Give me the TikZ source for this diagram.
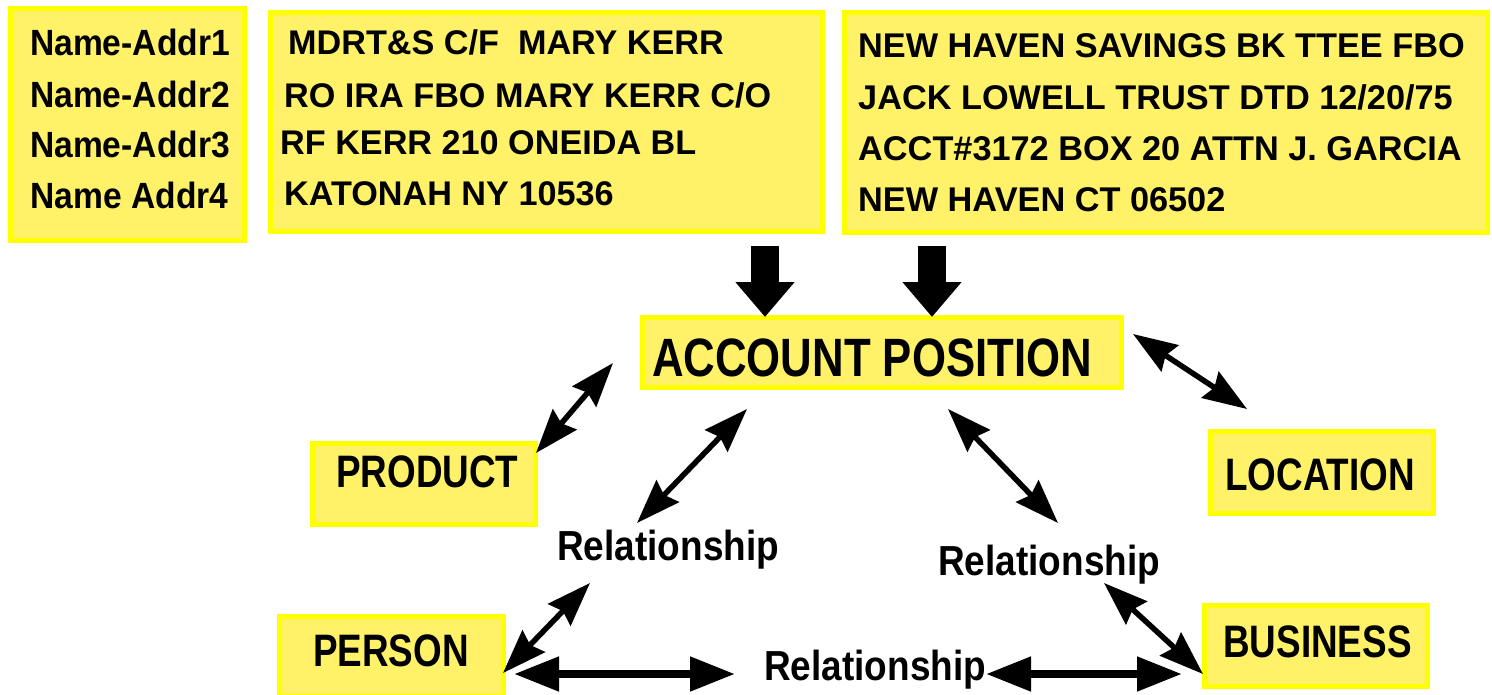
\documentclass[tikz,border=0pt]{standalone}
\usepackage{fontspec}
\setmainfont{Liberation Sans}
\usetikzlibrary{arrows.meta}
\definecolor{boxborder}{RGB}{255,255,0}
\definecolor{boxfill}{RGB}{255,242,105}
\newcommand\lbl[3]{\fontsize{#1}{#1}\selectfont\bfseries\scalebox{#2}[1]{#3}}
\begin{document}
\begin{tikzpicture}[x=1pt,y=-1pt,
  box/.style={draw=boxborder,line width=5pt,fill=boxfill,inner sep=0pt,anchor=center},
  txt/.style={anchor=base west,inner sep=0pt},
  dbl/.style={line width=5.5pt,{Stealth[length=44pt,width=31pt,inset=5pt]}-{Stealth[length=44pt,width=31pt,inset=5pt]}},
  hdbl/.style={line width=8pt,{Triangle[length=45pt,width=33pt]}-{Triangle[length=45pt,width=33pt]}},
  blk/.style={line width=28.5pt,-{Triangle[length=35pt,width=57pt]}}]
\useasboundingbox (0,0) rectangle (1492,694);
\fill[white] (0,0) rectangle (1492,694);

% boxes
\node[box,minimum width=234pt,minimum height=232pt] (b1) at (127.5,124.5) {};
\node[box,minimum width=552pt,minimum height=219pt] (b2) at (546.5,122) {};
\node[box,minimum width=643pt,minimum height=220pt] (b3) at (1166,122.5) {};
\node[box,minimum width=479pt,minimum height=70pt] (acct) at (882,352.5) {};
\node[box,minimum width=223pt,minimum height=81pt] (prod) at (424,484) {};
\node[box,minimum width=223pt,minimum height=82pt] (loc) at (1322,472.5) {};
\node[box,minimum width=224pt,minimum height=80pt] (pers) at (391.5,656) {};
\node[box,minimum width=223pt,minimum height=81pt] (bus) at (1316,646) {};

% box 1 text
\node[txt] (b1t1) at (30,55) {\lbl{36.5}{0.92}{Name-Addr1}};
\node[txt] (b1t2) at (30,107) {\lbl{36.5}{0.92}{Name-Addr2}};
\node[txt] (b1t3) at (30,157) {\lbl{36.5}{0.92}{Name-Addr3}};
\node[txt] (b1t4) at (30.5,208) {\lbl{36.5}{0.92}{Name Addr4}};

% box 2 text
\node[txt] (b2t1) at (288,54) {\lbl{34.2}{1}{MDRT\&S C/F\ \ MARY KERR}};
\node[txt] (b2t2) at (284,107) {\lbl{34.2}{1}{RO IRA FBO MARY KERR C/O}};
\node[txt] (b2t3) at (280,154) {\lbl{34.2}{1}{RF KERR 210 ONEIDA BL}};
\node[txt] (b2t4) at (284,205) {\lbl{34.2}{1}{KATONAH NY 10536}};

% box 3 text
\node[txt] (b3t1) at (858,57) {\lbl{34.3}{1}{NEW HAVEN SAVINGS BK TTEE FBO}};
\node[txt] (b3t2) at (858,109) {\lbl{34.3}{1}{JACK LOWELL TRUST DTD 12/20/75}};
\node[txt] (b3t3) at (858,160) {\lbl{34.3}{1}{ACCT\#3172 BOX 20 ATTN J. GARCIA}};
\node[txt] (b3t4) at (858,211) {\lbl{34.3}{1}{NEW HAVEN CT 06502}};

% labels
\node[txt] (acctt) at (652,376) {\lbl{54}{0.81}{ACCOUNT POSITION}};
\node[txt] (prodt) at (336,487) {\lbl{45.5}{0.81}{PRODUCT}};
\node[txt] (loct) at (1225,490) {\lbl{45.5}{0.81}{LOCATION}};
\node[txt] (perst) at (313,666) {\lbl{45.5}{0.81}{PERSON}};
\node[txt] (bust) at (1223,657) {\lbl{45.5}{0.81}{BUSINESS}};
\node[txt] (relL) at (557,560) {\lbl{42}{0.88}{Relationship}};
\node[txt] (relR) at (938,575) {\lbl{42}{0.88}{Relationship}};
\node[txt] (relB) at (764,680) {\lbl{42}{0.88}{Relationship}};

% connector end points
\coordinate (d1s) at (765,246); \coordinate (d1e) at (765,317);
\coordinate (d2s) at (932,246); \coordinate (d2e) at (932,317);
\coordinate (a1) at (613,363);  \coordinate (a2) at (536,453);
\coordinate (a3) at (1133,334); \coordinate (a4) at (1247,409);
\coordinate (a5) at (747,409);  \coordinate (a6) at (637,523);
\coordinate (a7) at (948,409);  \coordinate (a8) at (1058,523);
\coordinate (a9) at (590,583);  \coordinate (a10) at (503,673);
\coordinate (a11) at (1104,583); \coordinate (a12) at (1203,674);
\coordinate (a13) at (514,674); \coordinate (a14) at (735,674);
\coordinate (a15) at (986,674); \coordinate (a16) at (1182,674);

% connectors
\draw[blk] (d1s) -- (d1e);
\draw[blk] (d2s) -- (d2e);
\draw[dbl] (a1) -- (a2);
\draw[dbl] (a3) -- (a4);
\draw[dbl] (a5) -- (a6);
\draw[dbl] (a7) -- (a8);
\draw[dbl] (a9) -- (a10);
\draw[dbl] (a11) -- (a12);
\draw[hdbl] (a13) -- (a14);
\draw[hdbl] (a15) -- (a16);
\end{tikzpicture}
\end{document}
